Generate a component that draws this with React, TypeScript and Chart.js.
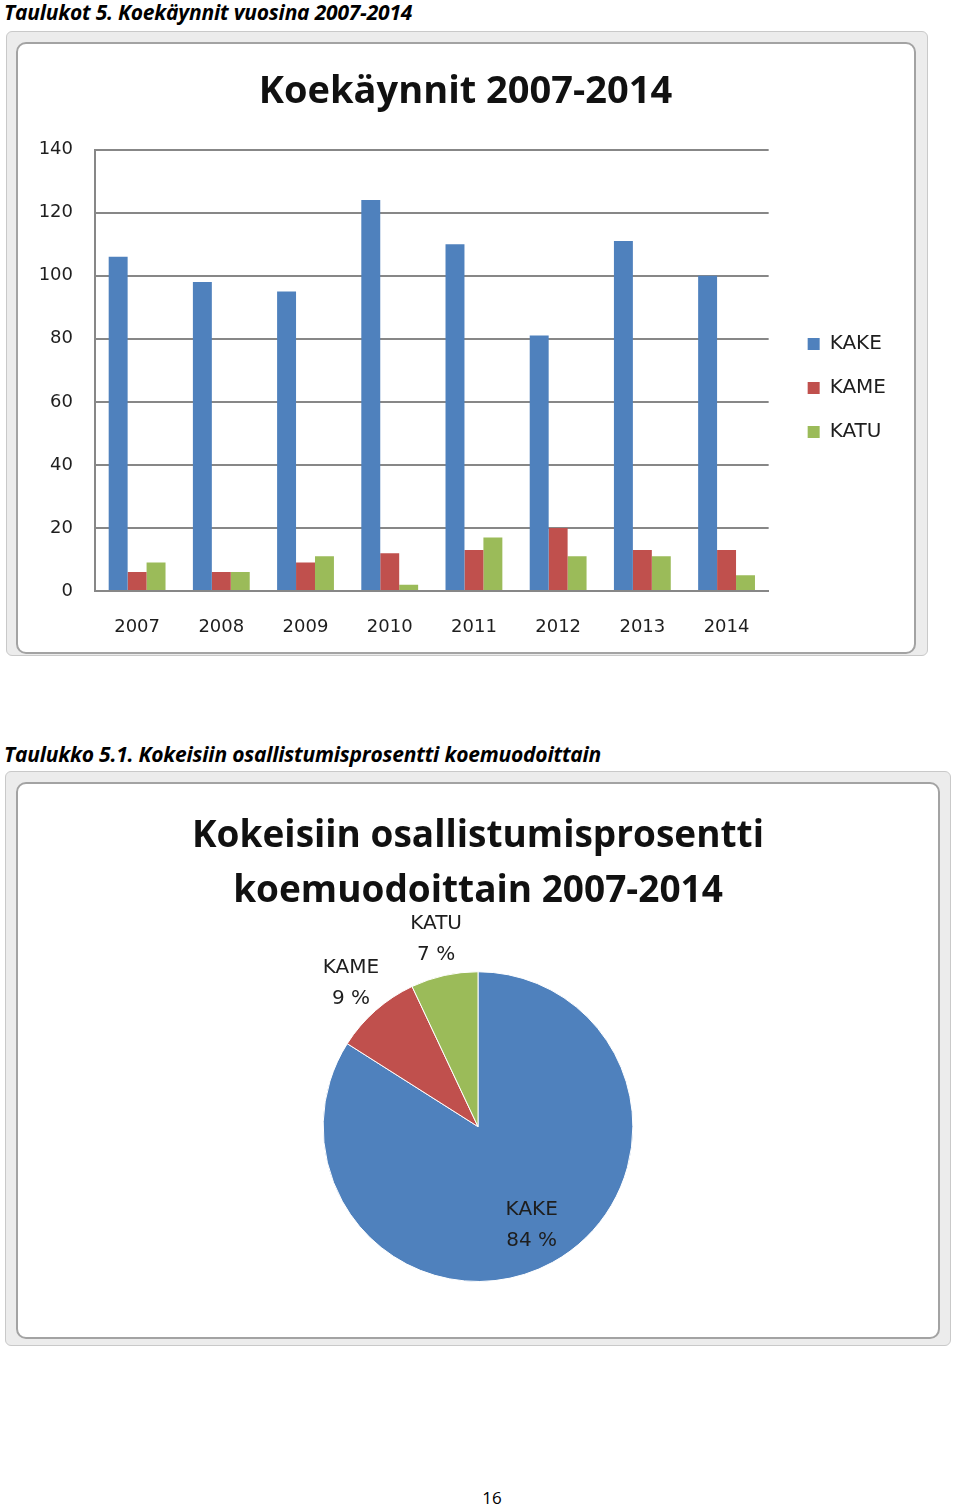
import React, { useEffect, useRef } from "react";
import { Chart, registerables } from "chart.js";

Chart.register(...registerables);

// ---- Data ----
const years = ["2007", "2008", "2009", "2010", "2011", "2012", "2013", "2014"];
const kake = [106, 98, 95, 124, 110, 81, 111, 100];
const kame = [6, 6, 9, 12, 13, 20, 13, 13];
const katu = [9, 6, 11, 2, 17, 11, 11, 5];
const yTicks = [0, 20, 40, 60, 80, 100, 120, 140];

const pieLabels = ["KAKE", "KAME", "KATU"];
const pieValues = [84, 9, 7];

const barTitle = "Koekäynnit 2007-2014";
const pieTitle = ["Kokeisiin osallistumisprosentti", "koemuodoittain 2007-2014"];
const caption1 = "Taulukot 5. Koekäynnit vuosina 2007-2014";
const caption2 = "Taulukko 5.1. Kokeisiin osallistumisprosentti koemuodoittain";
const pageNumber = "16";

const BLUE = "#4F81BD";
const RED = "#C0504D";
const GREEN = "#9BBB59";
const GRID = "#878787";
const TEXT = "#1e1e1e";

const pieLabelPlugin = {
  id: "pieLabelPlugin",
  afterDatasetsDraw(chart: any) {
    const ctx = chart.ctx;
    const meta = chart.getDatasetMeta(0);
    const labels = chart.data.labels;
    const values = chart.data.datasets[0].data;
    ctx.save();
    ctx.font = '20px "DejaVu Sans"';
    ctx.fillStyle = TEXT;
    ctx.textAlign = "center";
    ctx.textBaseline = "middle";
    meta.data.forEach((arc: any, i: number) => {
      const p = arc.getProps(["x", "y", "startAngle", "endAngle", "outerRadius"], true);
      const mid = (p.startAngle + p.endAngle) / 2;
      const frac = (p.endAngle - p.startAngle) / (2 * Math.PI);
      const r = frac > 0.2 ? p.outerRadius * 0.72 : p.outerRadius * 1.24;
      const lx = p.x + Math.cos(mid) * r;
      const ly = p.y + Math.sin(mid) * r;
      ctx.fillText(String(labels[i]), lx, ly - 15);
      ctx.fillText(values[i] + " %", lx, ly + 16);
    });
    ctx.restore();
  },
};

function BarChart() {
  const ref = useRef<HTMLCanvasElement>(null);
  useEffect(() => {
    const chart = new Chart(ref.current!, {
      type: "bar",
      data: {
        labels: years,
        datasets: [
          { label: "KAKE", data: kake, backgroundColor: BLUE },
          { label: "KAME", data: kame, backgroundColor: RED },
          { label: "KATU", data: katu, backgroundColor: GREEN },
        ],
      },
      options: {
        responsive: false,
        animation: false,
        devicePixelRatio: 1,
        layout: { padding: { left: 18, right: 19, bottom: 17, top: 0 } },
        datasets: { bar: { barPercentage: 1, categoryPercentage: 0.675 } },
        plugins: {
          title: {
            display: true,
            text: barTitle,
            color: "#111",
            font: { family: "Open Sans", weight: "bold", size: 38 },
            padding: { top: 26, bottom: 35 },
          },
          legend: {
            position: "right",
            title: {
              display: true,
              text: " ",
              font: { family: "DejaVu Sans", size: 20 },
              padding: { top: 0, bottom: 73 },
            },
            labels: {
              boxWidth: 12,
              boxHeight: 12,
              padding: 24,
              color: TEXT,
              font: { family: "DejaVu Sans", size: 20 },
            },
          },
          tooltip: { enabled: false },
        },
        scales: {
          x: {
            afterFit: (s: any) => {
              s.height = 45;
            },
            grid: { display: false, drawTicks: false },
            border: { color: GRID, width: 2 },
            ticks: { color: TEXT, font: { family: "DejaVu Sans", size: 18 }, padding: 26 },
          },
          y: {
            min: 0,
            max: 140,
            afterBuildTicks: (s: any) => {
              s.ticks = yTicks.map((v) => ({ value: v }));
            },
            afterFit: (s: any) => {
              s.width = 60;
            },
            grid: { color: GRID, lineWidth: 2, drawTicks: false },
            border: { color: GRID, width: 2 },
            ticks: { color: TEXT, font: { family: "DejaVu Sans", size: 18 }, padding: 22 },
          },
          gap: {
            position: "right",
            display: true,
            grid: { display: false, drawTicks: false },
            border: { display: false },
            ticks: { display: false },
            afterFit: (s: any) => {
              s.width = 15;
            },
          },
        },
      } as any,
    });
    return () => chart.destroy();
  }, []);
  return <canvas ref={ref} width={898} height={610} style={{ position: "absolute", left: 17, top: 43 }} />;
}

function PieChart() {
  const ref = useRef<HTMLCanvasElement>(null);
  useEffect(() => {
    const chart = new Chart(ref.current!, {
      type: "pie",
      data: {
        labels: pieLabels,
        datasets: [
          {
            data: pieValues,
            backgroundColor: [BLUE, RED, GREEN],
            borderColor: "#ffffff",
            borderWidth: 1,
          },
        ],
      },
      options: {
        responsive: false,
        animation: false,
        devicePixelRatio: 1,
        layout: { padding: { bottom: 56 } },
        plugins: {
          title: {
            display: true,
            text: pieTitle,
            color: "#111",
            font: { family: "Open Sans", weight: "bold", size: 37, lineHeight: 1.49 },
            padding: { top: 26, bottom: 52 },
          },
          legend: { display: false },
          tooltip: { enabled: false },
        },
      } as any,
      plugins: [pieLabelPlugin],
    });
    return () => chart.destroy();
  }, []);
  return <canvas ref={ref} width={922} height={555} style={{ position: "absolute", left: 17, top: 783 }} />;
}

const captionStyle: React.CSSProperties = {
  position: "absolute",
  left: 4,
  fontFamily: '"Open Sans", sans-serif',
  fontStyle: "italic",
  fontWeight: 700,
  fontSize: 21,
  lineHeight: "24px",
  color: "#000",
  whiteSpace: "nowrap",
  letterSpacing: "-0.2px",
};

function Frame(props: { ox: number; oy: number; ow: number; oh: number; ix: number; iy: number; iw: number; ih: number }) {
  const { ox, oy, ow, oh, ix, iy, iw, ih } = props;
  return (
    <>
      <div
        style={{
          position: "absolute",
          left: ox,
          top: oy,
          width: ow,
          height: oh,
          boxSizing: "border-box",
          background: "#ececec",
          border: "1px solid #c9c9c9",
          borderRadius: 6,
        }}
      />
      <div
        style={{
          position: "absolute",
          left: ix,
          top: iy,
          width: iw,
          height: ih,
          boxSizing: "border-box",
          background: "#fff",
          border: "2px solid #a3a3a3",
          borderRadius: 10,
        }}
      />
    </>
  );
}

export default function App() {
  return (
    <div style={{ position: "absolute", left: 0, top: 0, width: 960, height: 1509, background: "#fff", overflow: "hidden" }}>
      <div style={{ ...captionStyle, top: 0 }}>{caption1}</div>
      <Frame ox={6} oy={31} ow={922} oh={625} ix={16} iy={42} iw={900} ih={612} />
      <BarChart />
      <div style={{ ...captionStyle, top: 742 }}>{caption2}</div>
      <Frame ox={5} oy={771} ow={946} oh={575} ix={16} iy={782} iw={924} ih={557} />
      <PieChart />
      <div
        style={{
          position: "absolute",
          left: 0,
          width: 984,
          top: 1486,
          textAlign: "center",
          fontFamily: '"Open Sans", sans-serif',
          fontSize: 17,
          color: "#000",
        }}
      >
        {pageNumber}
      </div>
    </div>
  );
}
